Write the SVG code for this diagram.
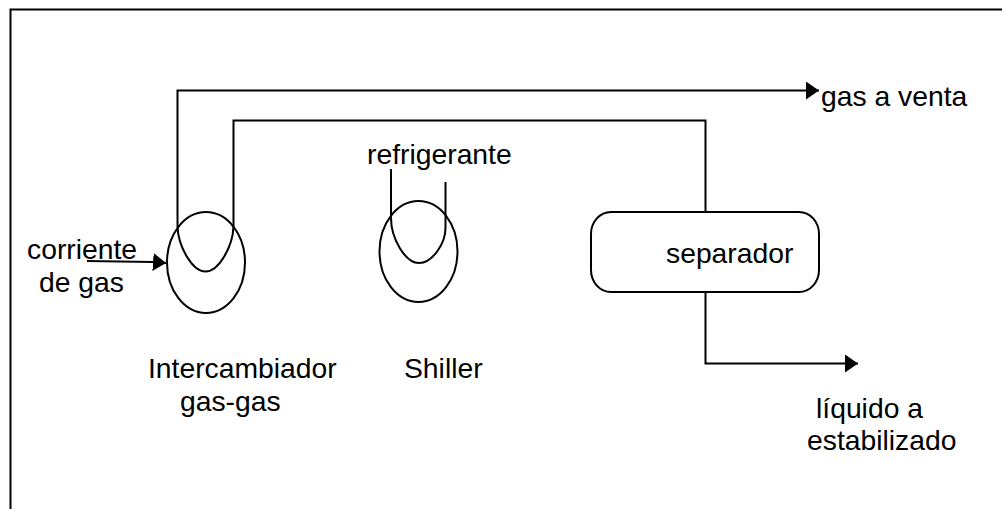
<svg xmlns="http://www.w3.org/2000/svg" width="1002" height="509" viewBox="0 0 1002 509">
<defs>
<marker id="arrow" markerUnits="userSpaceOnUse" markerWidth="13" markerHeight="18" refX="13" refY="9" orient="auto"><path d="M0 0L13 9L0 18Z" fill="#000"/></marker>
</defs>
<style>
.s{fill:none;stroke:#000;stroke-width:2}
.t{font-family:"Liberation Sans",Arial,sans-serif;font-size:28.3px;fill:#000}
</style>
<rect width="1002" height="509" fill="#fff"/>
<path id="frame" class="s" d="M1002 9.500H10.500V509"/>
<g id="connectors">
<path class="s" marker-end="url(#arrow)" d="M177.500 226V90.500H819"/>
<path class="s" d="M233.500 226V120.500H705.500V212"/>
<path class="s" marker-end="url(#arrow)" d="M87 261L153 262L166 263"/>
<path class="s" marker-end="url(#arrow)" d="M705.500 292V363.500H858"/>
<path class="s" d="M391 169V218"/>
<path class="s" d="M445.500 182V228"/>
</g>
<g id="intercambiador">
<ellipse class="s" cx="206" cy="262.500" rx="39" ry="50.500"/>
<path class="s" d="M177.500 226C178 246 192 271.500 205.500 271.500C219 271.500 233 246 233.500 226"/>
<text class="t" x="148" y="378">Intercambiador</text>
<text class="t" x="180" y="411">gas-gas</text>
</g>
<g id="shiller">
<ellipse class="s" cx="418.500" cy="251.500" rx="39" ry="50.500"/>
<path class="s" d="M391 218C391 238 405 263 419 263C432 263 445.500 244 445.500 228"/>
<text class="t" x="367" y="164">refrigerante</text>
<text class="t" x="404" y="378">Shiller</text>
</g>
<g id="separador">
<rect class="s" x="591" y="212" width="228" height="80" rx="20" ry="22"/>
<text class="t" x="666" y="263">separador</text>
</g>
<g id="labels">
<text class="t" x="27" y="259">corriente</text>
<text class="t" x="39" y="292">de gas</text>
<text class="t" x="821" y="106">gas a venta</text>
<text class="t" x="816" y="418">líquido a</text>
<text class="t" x="807" y="450">estabilizado</text>
</g>
</svg>
